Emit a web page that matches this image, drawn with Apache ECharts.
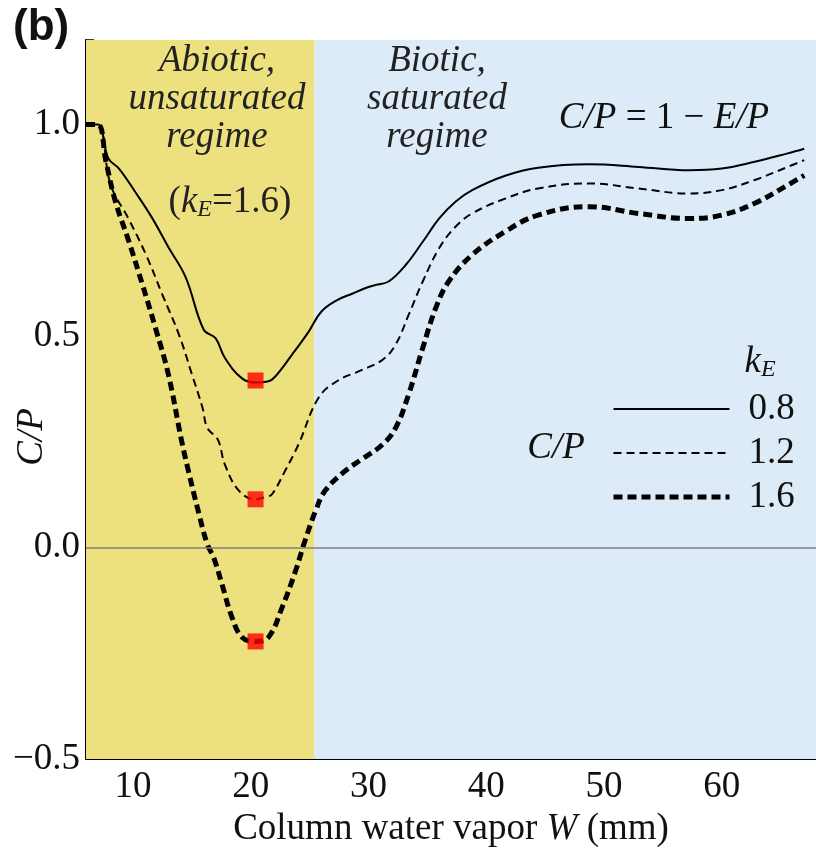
<!DOCTYPE html>
<html><head><meta charset="utf-8">
<script src="https://cdn.jsdelivr.net/npm/echarts@6/dist/echarts.min.js"></script>
<style>html,body{margin:0;padding:0;background:#fff}#c{width:816px;height:853px}</style>
</head><body><div id="c"></div>
<script>
// ---- data ----
const W_08  = [6,7,7.9,8.8,10.2,11.6,13.0,14.45,16.0,17.0,17.8,19.25,20.4,21.5,22.1,23.5,24.9,26.0,27.4,28.6,29.7,30.6,31.7,33.15,34.6,36.0,37.4,38.8,41.6,44.4,48.7,52.9,57.2,60.0,62.8,65.6,67.0];
const CP_08 = [1.0,1.0,0.92,0.896,0.84,0.78,0.71,0.64,0.515,0.495,0.448,0.40,0.39,0.393,0.405,0.456,0.51,0.558,0.586,0.60,0.613,0.621,0.629,0.668,0.723,0.778,0.818,0.845,0.879,0.898,0.906,0.900,0.892,0.896,0.912,0.932,0.943];
const W_12  = [6,7,8.1,9.6,11.1,12.5,13.9,15.0,15.9,16.3,17.2,17.8,19.0,20.4,21.3,21.8,22.9,24.05,25.75,27.4,29.2,31.2,32.3,33.4,34.6,36.0,37.4,38.8,41.6,44.4,48.7,52.9,57.2,60.0,62.8,65.6,67.0];
const CP_12 = [1.0,1.0,0.857,0.778,0.692,0.597,0.503,0.409,0.33,0.283,0.255,0.196,0.134,0.114,0.12,0.126,0.181,0.244,0.354,0.395,0.417,0.444,0.48,0.55,0.629,0.708,0.759,0.79,0.825,0.849,0.861,0.849,0.837,0.845,0.869,0.90,0.916];
const W_16  = [6,7,7.7,8.5,9.65,10.8,11.9,13.0,14.1,14.7,15.6,16.3,16.85,17.55,18.4,19.25,20.4,21.5,22.65,23.8,24.6,25.5,26.3,28.0,29.5,31.2,32.3,33.4,34.6,35.7,36.8,38.8,41.6,44.4,48.7,52.9,57.2,60.0,62.8,65.6,67.0];
const CP_16 = [1.0,1.0,0.912,0.818,0.723,0.621,0.519,0.409,0.255,0.181,0.079,0.008,-0.024,-0.087,-0.165,-0.212,-0.222,-0.212,-0.142,-0.055,0.016,0.087,0.134,0.181,0.21,0.244,0.283,0.362,0.472,0.566,0.629,0.692,0.747,0.786,0.806,0.79,0.778,0.786,0.814,0.857,0.88];
const MIN_W = [20.4,20.4,20.4];
const MIN_CP = [0.395,0.114,-0.222];
const KE_NAMES = ['0.8','1.2','1.6'];
const REGIME_BOUNDS = [6,25.4,68];
const X_MAJOR = [10,20,30,40,50,60];
const X_MINOR = [8,12,14,16,18,22,24,26,28,32,34,36,38,42,44,46,48,52,54,56,58,62,64,66];
const Y_LABELS = [-0.5,0,0.5,1.0];
const Y_TICKS = [-0.4,-0.3,-0.2,-0.1,0,0.1,0.2,0.3,0.4,0.5,0.6,0.7,0.8,0.9,1.0,1.1,1.2];

const zip = (a,b) => a.map((v,i)=>[v,b[i]]);
const SERIF = 'Liberation Serif';
const FS = 37;
const STYLES = [
  {color:'#000', width:2, type:'solid'},
  {color:'#000', width:2, type:[8,5]},
  {color:'#000', width:5, type:[9,5]}
];

const chart = echarts.init(document.getElementById('c'), null, {renderer:'canvas'});
const lineBase = {type:'line', symbol:'none', showSymbol:false, smooth:0.4, z:3, animation:false};

const option = {
  animation:false,
  backgroundColor:'#fff',
  grid:{left:86, right:0, top:40, bottom:91, containLabel:false},
  xAxis:[{
    type:'value', min:REGIME_BOUNDS[0], max:REGIME_BOUNDS[2], position:'bottom',
    axisLine:{show:true, onZero:false, lineStyle:{color:'#000', width:2}},
    axisTick:{show:true, inside:true, length:5, customValues:X_MINOR, lineStyle:{color:'#000', width:1.5}},
    axisLabel:{customValues:X_MAJOR, fontFamily:SERIF, fontSize:FS, color:'#111', margin:10},
    splitLine:{show:false},
    name:'{n|Column water vapor }{i|W}{n| (mm)}', nameLocation:'middle', nameGap:52,
    nameTextStyle:{rich:{n:{fontFamily:SERIF, fontSize:FS, color:'#111'}, i:{fontFamily:SERIF, fontSize:FS, fontStyle:'italic', color:'#111'}}}
  },{
    type:'value', min:REGIME_BOUNDS[0], max:REGIME_BOUNDS[2], position:'bottom',
    axisLine:{show:false, onZero:false},
    axisTick:{show:true, inside:true, length:10, customValues:X_MAJOR, lineStyle:{color:'#000', width:1.5}},
    axisLabel:{show:false}, splitLine:{show:false}
  }],
  yAxis:{
    type:'value', min:-0.5, max:1.2,
    axisLine:{show:true, onZero:false, lineStyle:{color:'#000', width:2}},
    axisTick:{show:true, inside:true, length:8, customValues:Y_TICKS, lineStyle:{color:'#000', width:1.5}},
    axisLabel:{customValues:Y_LABELS, fontFamily:SERIF, fontSize:FS, color:'#111', margin:6,
      formatter:v => (v<0?'\u2212':'') + Math.abs(v).toFixed(1)},
    splitLine:{show:false}
  },
  legend:{
    orient:'vertical', left:606, top:382, itemWidth:116, itemHeight:20, itemGap:0, selectedMode:false,
    data:KE_NAMES.map((n,i)=>({name:n, itemStyle:{opacity:0}, lineStyle:STYLES[i]})),
    textStyle:{fontFamily:SERIF, fontSize:FS, color:'#111', lineHeight:44, padding:[0,0,0,14]}
  },
  series:[
    {type:'line', name:'regimes', data:[], silent:true, z:1,
      markArea:{silent:true, data:[
        [{xAxis:REGIME_BOUNDS[0], itemStyle:{color:'#EDE07E'}},{xAxis:REGIME_BOUNDS[1]}],
        [{xAxis:REGIME_BOUNDS[1], itemStyle:{color:'#DDEBF8'}},{xAxis:REGIME_BOUNDS[2]}]
      ]},
      markLine:{silent:true, symbol:'none', label:{show:false}, lineStyle:{color:'#808080', width:1.5, type:'solid'},
        data:[{yAxis:0}]}
    },
    Object.assign({}, lineBase, {name:KE_NAMES[0], data:zip(W_08,CP_08), lineStyle:STYLES[0], itemStyle:{color:'#000'}}),
    Object.assign({}, lineBase, {name:KE_NAMES[1], data:zip(W_12,CP_12), lineStyle:STYLES[1], itemStyle:{color:'#000'}}),
    Object.assign({}, lineBase, {name:KE_NAMES[2], data:zip(W_16,CP_16), lineStyle:STYLES[2], itemStyle:{color:'#000'}}),
    {type:'scatter', name:'min', data:zip(MIN_W,MIN_CP), symbol:'rect', symbolSize:16, itemStyle:{color:'#FF0000'}, z:5, silent:true}
  ],
  graphic:[
    {type:'text', z:100, left:13, top:6, style:{text:'(b)', font:'bold 44px "Liberation Sans"', fill:'#111'}},
    {type:'text', z:100, x:217, y:42, style:{text:'Abiotic,\nunsaturated\nregime', font:'italic '+FS+'px "'+SERIF+'"', fill:'#222', align:'center', verticalAlign:'top', lineHeight:38}},
    {type:'text', z:100, x:230, y:202, style:{text:'{n|(}{i|k}{s|E}{n|=1.6)}', align:'center', verticalAlign:'middle',
      rich:{n:{fontFamily:SERIF, fontSize:FS, lineHeight:40, fill:'#222'}, i:{fontFamily:SERIF, fontSize:FS, fontStyle:'italic', lineHeight:40, fill:'#222'}, s:{fontFamily:SERIF, fontSize:24, fontStyle:'italic', lineHeight:22, verticalAlign:'bottom', fill:'#222'}}}},
    {type:'text', z:100, x:437, y:42, style:{text:'Biotic,\nsaturated\nregime', font:'italic '+FS+'px "'+SERIF+'"', fill:'#222', align:'center', verticalAlign:'top', lineHeight:38}},
    {type:'text', z:100, x:664, y:118, style:{text:'{i|C/P}{n| = 1 \u2212 }{i|E/P}', align:'center', verticalAlign:'middle',
      rich:{n:{fontFamily:SERIF, fontSize:FS, fill:'#111'}, i:{fontFamily:SERIF, fontSize:FS, fontStyle:'italic', fill:'#111'}}}},
    {type:'text', z:100, x:32, y:437, rotation:Math.PI/2, style:{text:'C/P', font:'italic '+FS+'px "'+SERIF+'"', fill:'#111', align:'center', verticalAlign:'middle'}},
    {type:'text', z:100, x:760, y:362, style:{text:'{i|k}{s|E}', align:'center', verticalAlign:'middle',
      rich:{i:{fontFamily:SERIF, fontSize:FS, fontStyle:'italic', lineHeight:40, fill:'#111'}, s:{fontFamily:SERIF, fontSize:24, fontStyle:'italic', lineHeight:22, verticalAlign:'bottom', fill:'#111'}}}},
    {type:'text', z:100, x:556, y:448, style:{text:'C/P', font:'italic '+FS+'px "'+SERIF+'"', fill:'#111', align:'center', verticalAlign:'middle'}}
  ]
};
chart.setOption(option);
</script>
</body></html>
